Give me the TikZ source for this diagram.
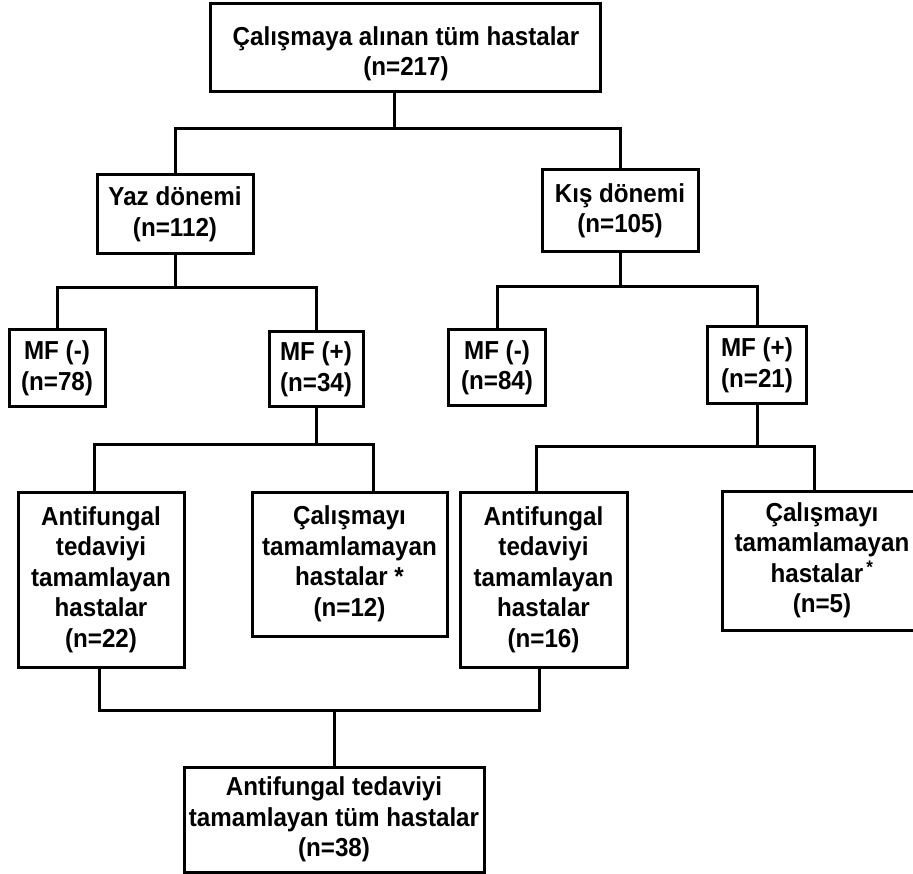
\documentclass[tikz,border=0pt]{standalone}
\usepackage{fontspec}
\setmainfont{Liberation Sans}[FakeStretch=0.93]
\usetikzlibrary{calc}
\begin{document}
\begin{tikzpicture}[x=1pt,y=-1pt,
  box/.style={draw, line width=3pt, inner sep=0pt, align=center,
    font=\fontsize{26}{30.5}\selectfont\bfseries},
  boxtext/.style={inner sep=0pt, align=center,
    font=\fontsize{26}{30.5}\selectfont\bfseries},
  link/.style={line width=3pt, line join=miter}]
\useasboundingbox (0,0) rectangle (913,874);
\clip (0,0) rectangle (913,874);
% boxes
\node[box, minimum width=390pt, minimum height=88pt] (top) at (405,48) {};
\node[boxtext] (toptext) at (406,54) {Çalışmaya alınan tüm hastalar\\(n=217)};
\node[box, minimum width=156pt, minimum height=79pt] (yaz) at (175,214.5)
  {Yaz dönemi\\(n=112)};
\node[box, minimum width=156pt, minimum height=82pt] (kis) at (620,211)
  {Kış dönemi\\(n=105)};
\node[box, minimum width=96pt, minimum height=77pt] (mfmA) at (57,368.5)
  {MF (-)\\(n=78)};
\node[box, minimum width=94pt, minimum height=75pt] (mfpA) at (316,369.5)
  {MF (+)\\(n=34)};
\node[box, minimum width=97pt, minimum height=76pt] (mfmB) at (497,368)
  {MF (-)\\(n=84)};
\node[box, minimum width=99pt, minimum height=77pt] (mfpB) at (757,365.5)
  {MF (+)\\(n=21)};
\node[box, minimum width=166pt, minimum height=175pt] (afA) at (101,579.5)
  {Antifungal\\tedaviyi\\tamamlayan\\hastalar\\(n=22)};
\node[box, minimum width=195pt, minimum height=144pt] (calA) at (349.5,564)
  {Çalışmayı\\tamamlamayan\\hastalar *\\(n=12)};
\node[box, minimum width=167pt, minimum height=175pt] (afB) at (543.5,579.5)
  {Antifungal\\tedaviyi\\tamamlayan\\hastalar\\(n=16)};
\node[box, minimum width=200pt, minimum height=139pt] (calB) at (822,560.5)
  {Çalışmayı\\tamamlamayan\\hastalar\textsuperscript{\,*}\\(n=5)};
\node[box, minimum width=300pt, minimum height=105pt] (bot) at (334,819.5)
  {Antifungal tedaviyi\\tamamlayan tüm hastalar\\(n=38)};
% junctions
\coordinate (j1) at (394,129);
\coordinate (j2) at (175,288);
\coordinate (j3) at (620,287);
\coordinate (j4) at (316,444);
\coordinate (j5) at (757,446);
\coordinate (j6) at (334,710);
% connectors
\draw[link] (top.south -| j1) -- (j1);
\draw[link] (yaz.north) |- (j1) -| (kis.north);
\draw[link] (yaz.south) -- (j2);
\draw[link] (mfmA.north) |- (j2) -| (mfpA.north);
\draw[link] (kis.south) -- (j3);
\draw[link] (mfmB.north) |- (j3) -| (mfpB.north);
\draw[link] (mfpA.south) -- (j4);
\draw[link] ($(afA.north)+(-7,0)$) |- (j4) -| ($(calA.north)+(23.5,0)$);
\draw[link] (mfpB.south) -- (j5);
\draw[link] ($(afB.north)+(-7.5,0)$) |- (j5) -| ($(calB.north)+(-8,0)$);
\draw[link] ($(afA.south)+(-2,0)$) |- (j6) -| ($(afB.south)+(-4.5,0)$);
\draw[link] (j6) -- (bot.north);
\end{tikzpicture}
\end{document}
